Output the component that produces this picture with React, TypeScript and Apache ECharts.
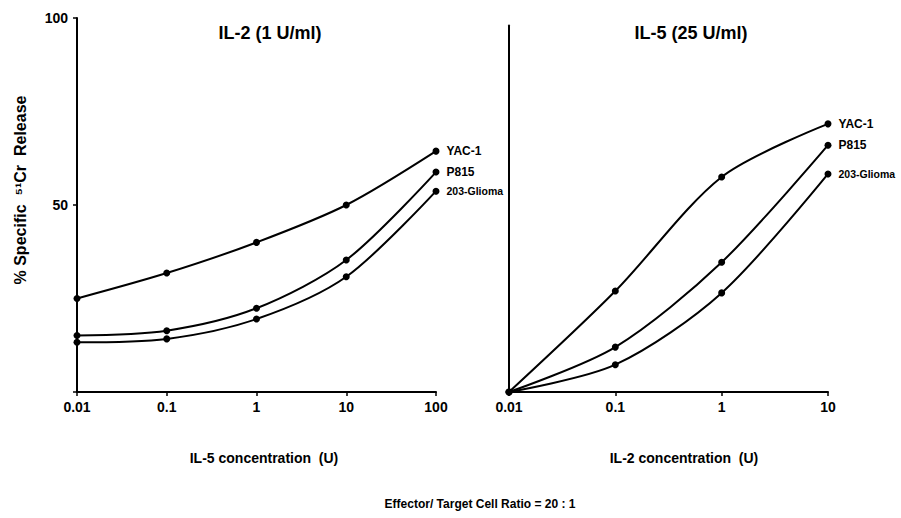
import React, { useEffect, useRef } from 'react';
import * as echarts from 'echarts';

// Left panel: IL-2 (1 U/ml), x = IL-5 concentration
const leftX = [0.01, 0.1, 1, 10, 100];
const leftYAC = [25, 31.8, 40, 50, 64.4];
const leftP815 = [15.1, 16.4, 22.4, 35.3, 58.8];
const leftGlioma = [13.3, 14.2, 19.5, 30.8, 53.7];

// Right panel: IL-5 (25 U/ml), x = IL-2 concentration
const rightX = [0.01, 0.1, 1, 10];
const rightYAC = [0, 27, 57.5, 71.7];
const rightP815 = [0, 12, 34.7, 66];
const rightGlioma = [0, 7.3, 26.5, 58.3];

const seriesNames = ['YAC-1', 'P815', '203-Glioma'];
const xTickLabels: Record<string, string> = { '0.01': '0.01', '0.1': '0.1', '1': '1', '10': '10', '100': '100' };

const FONT = "'Liberation Sans', Arial, sans-serif";

function mk(name: string, xs: number[], ys: number[], idx: number) {
  const narrow = name === '203-Glioma';
  return {
    type: 'line',
    name,
    xAxisIndex: idx,
    yAxisIndex: idx,
    smooth: 0.3,
    symbol: 'circle',
    symbolSize: 7,
    lineStyle: { color: '#000', width: 2 },
    itemStyle: { color: '#000' },
    z: 3,
    data: xs.map((x, i) => ({
      value: [x, ys[i]],
      label:
        i === xs.length - 1
          ? {
              show: true,
              position: 'right',
              distance: 7,
              formatter: name,
              color: '#000',
              fontWeight: 'bold',
              fontSize: narrow ? 10.5 : 12,
              fontFamily: FONT,
            }
          : { show: false },
    })),
  };
}

function xAxisCfg(idx: number, max: number) {
  return {
    type: 'log',
    logBase: 10,
    gridIndex: idx,
    min: 0.01,
    max,
    axisLine: { show: true, lineStyle: { color: '#000', width: 2 } },
    axisTick: { show: true, length: 4, lineStyle: { color: '#000', width: 1.5 } },
    minorTick: { show: false },
    splitLine: { show: false },
    axisLabel: {
      color: '#000',
      fontWeight: 'bold',
      fontSize: 14,
      fontFamily: FONT,
      margin: 8,
      formatter: (v: number) => {
        const k = String(Number(v.toPrecision(3)));
        return xTickLabels[k] ?? '';
      },
    },
  };
}

export default function App() {
  const ref = useRef<HTMLDivElement>(null);
  useEffect(() => {
    if (!ref.current) return;
    const chart = echarts.init(ref.current, undefined, { renderer: 'svg' });
    const textStyle = (text: string, size: number, family = FONT) => ({
      text,
      fill: '#000',
      font: `bold ${size}px ${family}`,
      textAlign: 'center',
      textVerticalAlign: 'middle',
    });
    chart.setOption({
      animation: false,
      backgroundColor: '#fff',
      grid: [
        { left: 77, top: 18, width: 359, height: 374 },
        { left: 509, top: 25.5, width: 319, height: 366.5 },
      ],
      xAxis: [xAxisCfg(0, 100), xAxisCfg(1, 10)],
      yAxis: [
        {
          type: 'value',
          gridIndex: 0,
          min: 0,
          max: 100,
          interval: 50,
          axisLine: { show: true, lineStyle: { color: '#000', width: 2 } },
          axisTick: { show: true, length: 4, lineStyle: { color: '#000', width: 1.5 } },
          splitLine: { show: false },
          axisLabel: {
            color: '#000',
            fontWeight: 'bold',
            fontSize: 14,
            fontFamily: FONT,
            margin: 9,
            formatter: (v: number) => (v === 0 ? '' : String(v)),
          },
        },
        {
          type: 'value',
          gridIndex: 1,
          min: 0,
          max: 98,
          axisLine: { show: true, lineStyle: { color: '#000', width: 2 } },
          axisTick: { show: false },
          splitLine: { show: false },
          axisLabel: { show: false },
        },
      ],
      series: [
        mk(seriesNames[0], leftX, leftYAC, 0),
        mk(seriesNames[1], leftX, leftP815, 0),
        mk(seriesNames[2], leftX, leftGlioma, 0),
        mk(seriesNames[0], rightX, rightYAC, 1),
        mk(seriesNames[1], rightX, rightP815, 1),
        mk(seriesNames[2], rightX, rightGlioma, 1),
      ],
      graphic: [
        { type: 'text', x: 270, y: 33, style: textStyle('IL-2 (1 U/ml)', 18) },
        { type: 'text', x: 691, y: 33, style: textStyle('IL-5 (25 U/ml)', 18) },
        { type: 'text', x: 264, y: 458, style: textStyle('IL-5 concentration  (U)', 14) },
        { type: 'text', x: 684, y: 458, style: textStyle('IL-2 concentration  (U)', 14) },
        { type: 'text', x: 480, y: 504, style: textStyle('Effector/ Target Cell Ratio = 20 : 1', 12) },
        {
          type: 'text',
          x: 20,
          y: 190,
          rotation: Math.PI / 2,
          style: textStyle('% Specific  \u2075\u00B9Cr  Release', 16),
        },
      ],
    });
    return () => chart.dispose();
  }, []);
  return (
    <div
      ref={ref}
      style={{ position: 'fixed', left: 0, top: 0, width: 901, height: 518, background: '#fff' }}
    />
  );
}
